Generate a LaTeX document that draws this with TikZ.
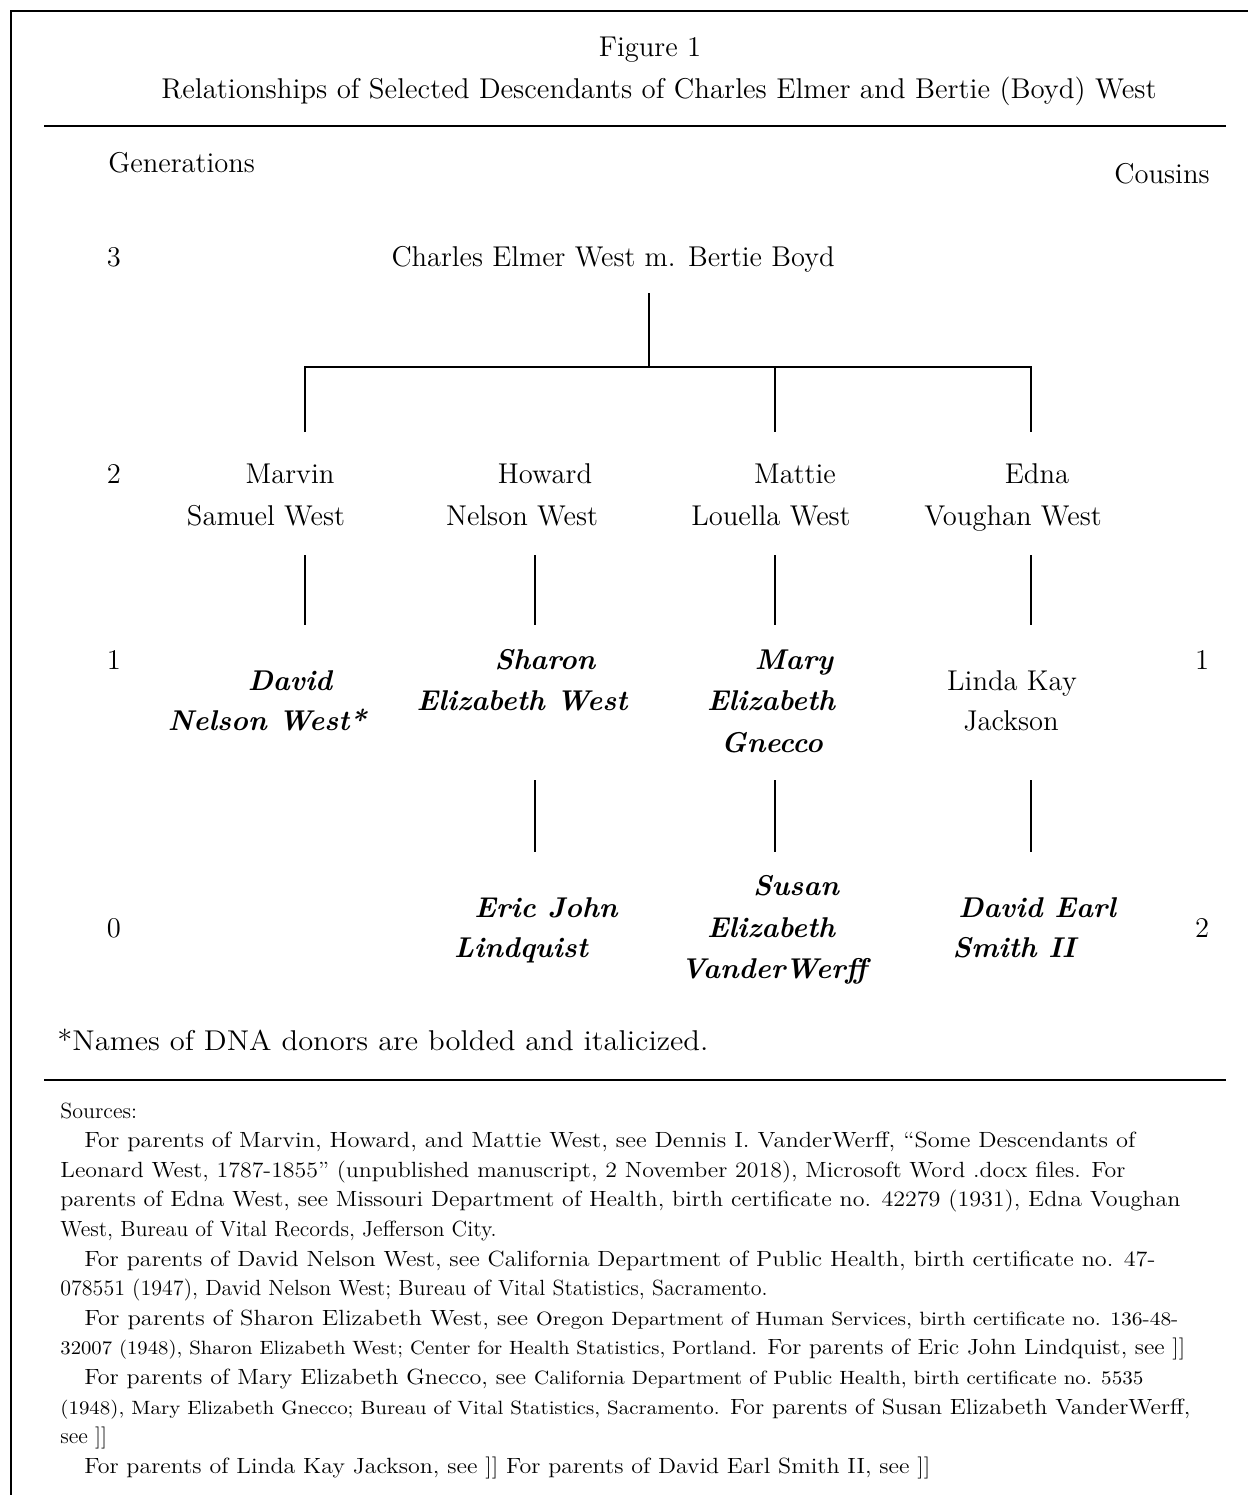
\documentclass[tikz,border=0pt]{standalone}
\usepackage{fontspec}
\usepackage{graphicx}
\newlength\fitL
\newcommand\fitw[2]{\settowidth\fitL{#2}\pgfmathsetmacro\fitR{#1*0.5/\fitL}\scalebox{\fitR}[1]{#2}}
\newcommand\smf{\fontsize{9.6}{11}\selectfont}
\tikzset{
  txt/.style={inner sep=0pt, anchor=base, font=\fontsize{14.3}{17}\selectfont},
  donor/.style={inner sep=0pt, anchor=base, font=\fontsize{14.3}{17}\selectfont\bfseries\itshape},
  src/.style={inner sep=0pt, anchor=base west, font=\fontsize{11}{13}\selectfont},
  rulel/.style={line width=1.4pt},
  link/.style={line width=1pt}
}
\begin{document}
\begin{tikzpicture}[x=0.5pt,y=-0.5pt]
\useasboundingbox (0,0) rectangle (1248,1495);
% frame
\draw[rulel] (1248,11) -- (11,11) -- (11,1495);
\draw[rulel] (44,126) -- (1226,126);
\draw[rulel] (44,1080) -- (1226,1080);
% heading
\node[txt] (fig) at (650,56) {Figure 1};
\node[txt] (title) at (659,98) {\fitw{995}{Relationships of Selected Descendants of Charles Elmer and Bertie (Boyd) West}};
\node[txt, anchor=base west] (gen) at (108,172) {Generations};
\node[txt, anchor=base east] (cous) at (1210,183) {Cousins};
% generation numbers
\node[txt] (g3) at (114,266) {3};
\node[txt] (g2) at (114,483) {2};
\node[txt] (g1) at (114,669) {1};
\node[txt] (g0) at (114,937) {0};
\node[txt] (c1) at (1202,669) {1};
\node[txt] (c2) at (1202,937) {2};
% generation 3
\node[txt] (root) at (613,266) {\fitw{443}{Charles Elmer West m. Bertie Boyd}};
% generation 2
\node[txt] (marvinA) at (290,483) {Marvin};
\node[txt] (marvinB) at (266,525) {Samuel West};
\node[txt] (howardA) at (545,483) {Howard};
\node[txt] (howardB) at (522,525) {Nelson West};
\node[txt] (mattieA) at (795,483) {Mattie};
\node[txt] (mattieB) at (771,525) {Louella West};
\node[txt] (ednaA) at (1037,483) {Edna};
\node[txt] (ednaB) at (1013,525) {Voughan West};
% generation 1
\node[donor] (davidA) at (290,690) {David};
\node[donor] (davidB) at (267,730) {Nelson West*};
\node[donor] (sharonA) at (545,669) {Sharon};
\node[donor] (sharonB) at (522,710) {Elizabeth West};
\node[donor] (maryA) at (794,669) {Mary};
\node[donor] (maryB) at (771,710) {Elizabeth};
\node[donor] (maryC) at (772,752) {Gnecco};
\node[txt] (lindaA) at (1012,690) {Linda Kay};
\node[txt] (lindaB) at (1011,730) {Jackson};
% generation 0
\node[donor] (ericA) at (546,917) {Eric John};
\node[donor] (ericB) at (521,957) {Lindquist};
\node[donor] (susanA) at (796,895) {Susan};
\node[donor] (susanB) at (771,937) {Elizabeth};
\node[donor] (susanC) at (774,978) {VanderWerff};
\node[donor] (smithA) at (1037,917) {David Earl};
\node[donor] (smithB) at (1014,957) {Smith II};
% connectors
\coordinate (rootL) at (649,293);
\coordinate (bar) at (649,367);
\coordinate (barL) at (305,367);
\coordinate (barM) at (775,367);
\coordinate (barR) at (1031,367);
\coordinate (dL) at (305,432);
\coordinate (dM) at (775,432);
\coordinate (dR) at (1031,432);
\draw[link] (rootL) -- (bar);
\draw[link] (dL) -- (barL) -- (barR) -- (dR);
\draw[link] (barM) -- (dM);
\foreach \x/\n in {305/a,535/b,775/c,1031/d}{
  \coordinate (u\n) at (\x,555);
  \coordinate (v\n) at (\x,625);
  \draw[link] (u\n) -- (v\n);
}
\foreach \x/\n in {535/b,775/c,1031/d}{
  \coordinate (p\n) at (\x,780);
  \coordinate (q\n) at (\x,852);
  \draw[link] (p\n) -- (q\n);
}
% footnote
\node[txt, anchor=base west] (note) at (57,1050) {\fitw{651}{*Names of DNA donors are bolded and italicized.}};
% sources
\node[src] (s0) at (60,1118) {Sources:};
\node[src] (s1) at (84,1147.6) {\fitw{1051}{For parents of Marvin, Howard, and Mattie West, see Dennis I. VanderWerff, “Some Descendants of}};
\node[src] (s2) at (60,1177.2) {\fitw{1065}{Leonard West, 1787-1855” (unpublished manuscript, 2 November 2018), Microsoft Word .docx files. For}};
\node[src] (s3) at (60,1206.8) {\fitw{1120}{parents of Edna West, see Missouri Department of Health, birth certificate no. 42279 (1931), Edna Voughan}};
\node[src] (s4) at (60,1236.4) {West, Bureau of Vital Records, Jefferson City.};
\node[src] (s5) at (84,1266) {\fitw{1071}{For parents of David Nelson West, see California Department of Public Health, birth certificate no. 47-}};
\node[src] (s6) at (60,1295.6) {078551 (1947), David Nelson West; Bureau of Vital Statistics, Sacramento.};
\node[src] (s7) at (84,1325.2) {\fitw{1094}{For parents of Sharon Elizabeth West, see {\smf Oregon Department of Human Services, birth certificate no. 136-48-}}};
\node[src] (s8) at (60,1354.8) {\fitw{1125}{{\smf 32007 (1948), Sharon Elizabeth West; Center for Health Statistics, Portland.} For parents of Eric John Lindquist, see ]]}};
\node[src] (s9) at (84,1384.4) {\fitw{1059}{For parents of Mary Elizabeth Gnecco, see {\smf California Department of Public Health, birth certificate no. 5535}}};
\node[src] (s10) at (60,1414) {\fitw{1130}{{\smf (1948), Mary Elizabeth Gnecco; Bureau of Vital Statistics, Sacramento.} For parents of Susan Elizabeth VanderWerff,}};
\node[src] (s11) at (60,1443.6) {see ]]};
\node[src] (s12) at (84,1473.2) {\fitw{846}{For parents of Linda Kay Jackson, see ]] For parents of David Earl Smith II, see ]]}};
\end{tikzpicture}
\end{document}
